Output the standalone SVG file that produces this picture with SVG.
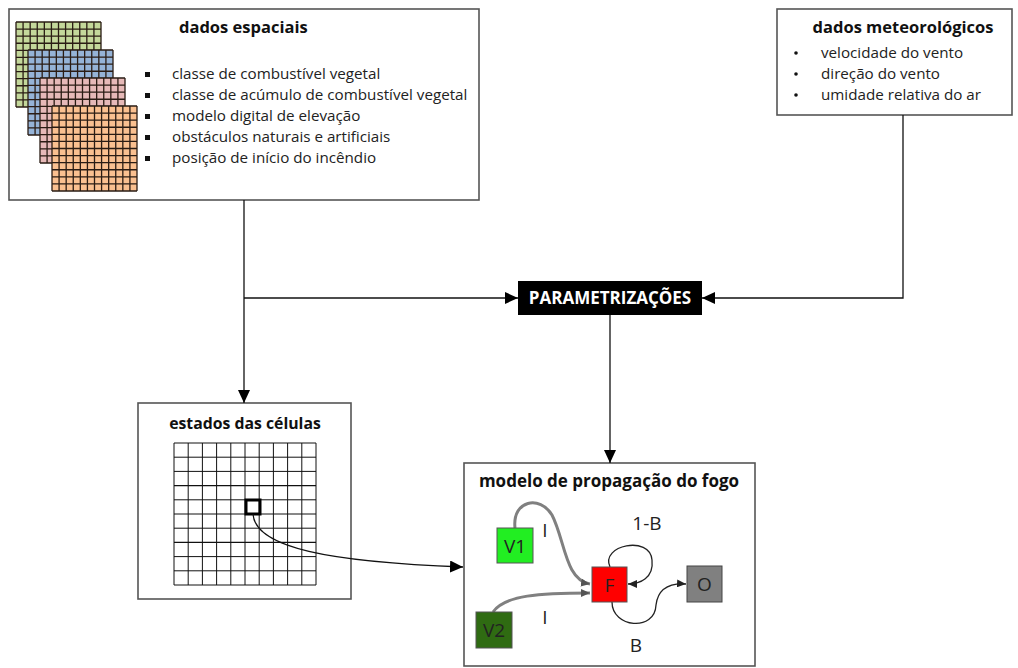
<svg xmlns="http://www.w3.org/2000/svg" width="1018" height="668" viewBox="0 0 1018 668">
<style>
.box{fill:#fff;stroke:#555;stroke-width:1.6}
.title{font-family:"Open Sans","Noto Sans",sans-serif;font-weight:bold;font-size:16.5px;fill:#111}
.txt{font-family:"Open Sans","Noto Sans",sans-serif;font-size:15.2px;fill:#222}
.lbl{font-family:"Open Sans","Noto Sans",sans-serif;font-size:19px;fill:#222}
.conn{fill:none;stroke:#111;stroke-width:1.3}
.gl{fill:none;stroke:#2a1c14;stroke-width:1.3}
.cl{fill:none;stroke:#111;stroke-width:1}
.gray{fill:none;stroke:#808080;stroke-width:3}
.thin{fill:none;stroke:#222;stroke-width:1.3}
</style>
<defs>
<marker id="ah" markerUnits="userSpaceOnUse" markerWidth="14" markerHeight="12" refX="13" refY="6" orient="auto">
<path d="M0,0 L13,6 L0,12 Z" fill="#000"/>
</marker>
<marker id="ahs" markerUnits="userSpaceOnUse" markerWidth="10" markerHeight="8" refX="9" refY="4" orient="auto">
<path d="M0,0 L9,4 L0,8 Z" fill="#222"/>
</marker>
<marker id="ahg" markerUnits="userSpaceOnUse" markerWidth="10" markerHeight="8" refX="9" refY="4" orient="auto">
<path d="M0,0 L9,4 L0,8 Z" fill="#555"/>
</marker>
<g id="gl">
<path class="gl" d="M0,0H85M0,7.08H85M0,14.17H85M0,21.25H85M0,28.33H85M0,35.42H85M0,42.5H85M0,49.58H85M0,56.67H85M0,63.75H85M0,70.83H85M0,77.92H85M0,85H85M0,0V85M7.08,0V85M14.17,0V85M21.25,0V85M28.33,0V85M35.42,0V85M42.5,0V85M49.58,0V85M56.67,0V85M63.75,0V85M70.83,0V85M77.92,0V85M85,0V85"/>
</g>
</defs>

<g id="dados-espaciais">
<rect class="box" x="9" y="9" width="470" height="191"/>
<rect x="16" y="22" width="85" height="85" fill="#c4d89b"/>
<use href="#gl" x="16" y="22"/>
<rect x="28" y="50" width="85" height="85" fill="#95b3d7"/>
<use href="#gl" x="28" y="50"/>
<rect x="40" y="78" width="85" height="85" fill="#e6b9b8"/>
<use href="#gl" x="40" y="78"/>
<rect x="52" y="106" width="85" height="85" fill="#fac090"/>
<use href="#gl" x="52" y="106"/>
<text class="title" x="179" y="33">dados espaciais</text>
<g fill="#111">
<rect x="145" y="72" width="5" height="5"/>
<rect x="145" y="93" width="5" height="5"/>
<rect x="145" y="114" width="5" height="5"/>
<rect x="145" y="135" width="5" height="5"/>
<rect x="145" y="156" width="5" height="5"/>
</g>
<text class="txt" x="172" y="79">classe de combustível vegetal</text>
<text class="txt" x="172" y="100">classe de acúmulo de combustível vegetal</text>
<text class="txt" x="172" y="121">modelo digital de elevação</text>
<text class="txt" x="172" y="142">obstáculos naturais e artificiais</text>
<text class="txt" x="172" y="163">posição de início do incêndio</text>
</g>

<g id="dados-meteorologicos">
<rect class="box" x="777" y="9" width="235" height="106"/>
<text class="title" x="903" y="33" text-anchor="middle">dados meteorológicos</text>
<g fill="#111">
<circle cx="796" cy="53" r="1.8"/>
<circle cx="796" cy="74" r="1.8"/>
<circle cx="796" cy="95" r="1.8"/>
</g>
<text class="txt" x="821" y="58">velocidade do vento</text>
<text class="txt" x="821" y="79">direção do vento</text>
<text class="txt" x="821" y="100">umidade relativa do ar</text>
</g>

<g id="parametrizacoes">
<rect x="518" y="281" width="184" height="34" fill="#000"/>
<text x="610" y="304" text-anchor="middle" font-family="'Open Sans','Noto Sans',sans-serif" font-weight="bold" font-size="17" fill="#fff">PARAMETRIZAÇÕES</text>
</g>

<g id="estados-das-celulas">
<rect class="box" x="138" y="403" width="213" height="196"/>
<text class="title" x="245" y="429" text-anchor="middle" style="font-size:15.8px">estados das células</text>
<path class="cl" d="M174,443H316M174,457.2H316M174,471.4H316M174,499.8H316M174,514H316M174,528.2H316M174,556.6H316M174,570.8H316M174,585H316M174,443V585M188.2,443V585M202.4,443V585M216.6,443V585M230.8,443V585M245,443V585M259.2,443V585M273.4,443V585M287.6,443V585M301.8,443V585M316,443V585"/>
<path d="M174,485.6H316M174,542.4H316" fill="none" stroke="#111" stroke-width="1.25"/>
<rect x="246" y="500" width="14" height="14" fill="none" stroke="#000" stroke-width="3"/>
</g>

<g id="modelo-propagacao">
<rect class="box" x="464" y="463" width="291" height="203"/>
<text class="title" x="609" y="487" text-anchor="middle" style="font-size:17px">modelo de propagação do fogo</text>
<path class="gray" d="M515,528 C512,500 540,495 552,515 C565,540 565,580 590,584" marker-end="url(#ahg)"/>
<path class="gray" d="M493,612 C505,595 540,593 590,593" marker-end="url(#ahg)"/>
<path class="thin" d="M610,567 C600,545 650,535 652,560 C654,578 640,584 628,584" marker-end="url(#ahs)"/>
<path class="thin" d="M612,602 C612,628 655,632 656,605 C658,588 670,583 686,584" marker-end="url(#ahs)"/>
<g id="V1"><rect x="497" y="528" width="36" height="35" fill="#22ee22" stroke="#555" stroke-width="1"/><text class="lbl" x="515" y="553" text-anchor="middle">V1</text></g>
<g id="V2"><rect x="476" y="612" width="36" height="36" fill="#2f6b12" stroke="#555" stroke-width="1"/><text class="lbl" x="494" y="637" text-anchor="middle">V2</text></g>
<g id="F"><rect x="592" y="567" width="35" height="35" fill="#ff0000" stroke="#555" stroke-width="1"/><text class="lbl" x="609.5" y="592" text-anchor="middle">F</text></g>
<g id="O"><rect x="687" y="566" width="35" height="36" fill="#808080" stroke="#444" stroke-width="1"/><text class="lbl" x="704.5" y="591" text-anchor="middle">O</text></g>
<text class="lbl" x="545" y="537" text-anchor="middle">I</text>
<text class="lbl" x="647" y="530" text-anchor="middle">1-B</text>
<text class="lbl" x="545" y="624" text-anchor="middle">I</text>
<text class="lbl" x="636" y="652" text-anchor="middle">B</text>
</g>

<g id="connectors">
<path class="conn" d="M244,200 V403" marker-end="url(#ah)"/>
<path class="conn" d="M244,298 H518" marker-end="url(#ah)"/>
<path class="conn" d="M903,115 V298 H702" marker-end="url(#ah)"/>
<path class="conn" d="M610,315 V463" marker-end="url(#ah)"/>
<path class="conn" d="M253,514 C255,548 330,562 463,567" marker-end="url(#ah)"/>
</g>
</svg>
